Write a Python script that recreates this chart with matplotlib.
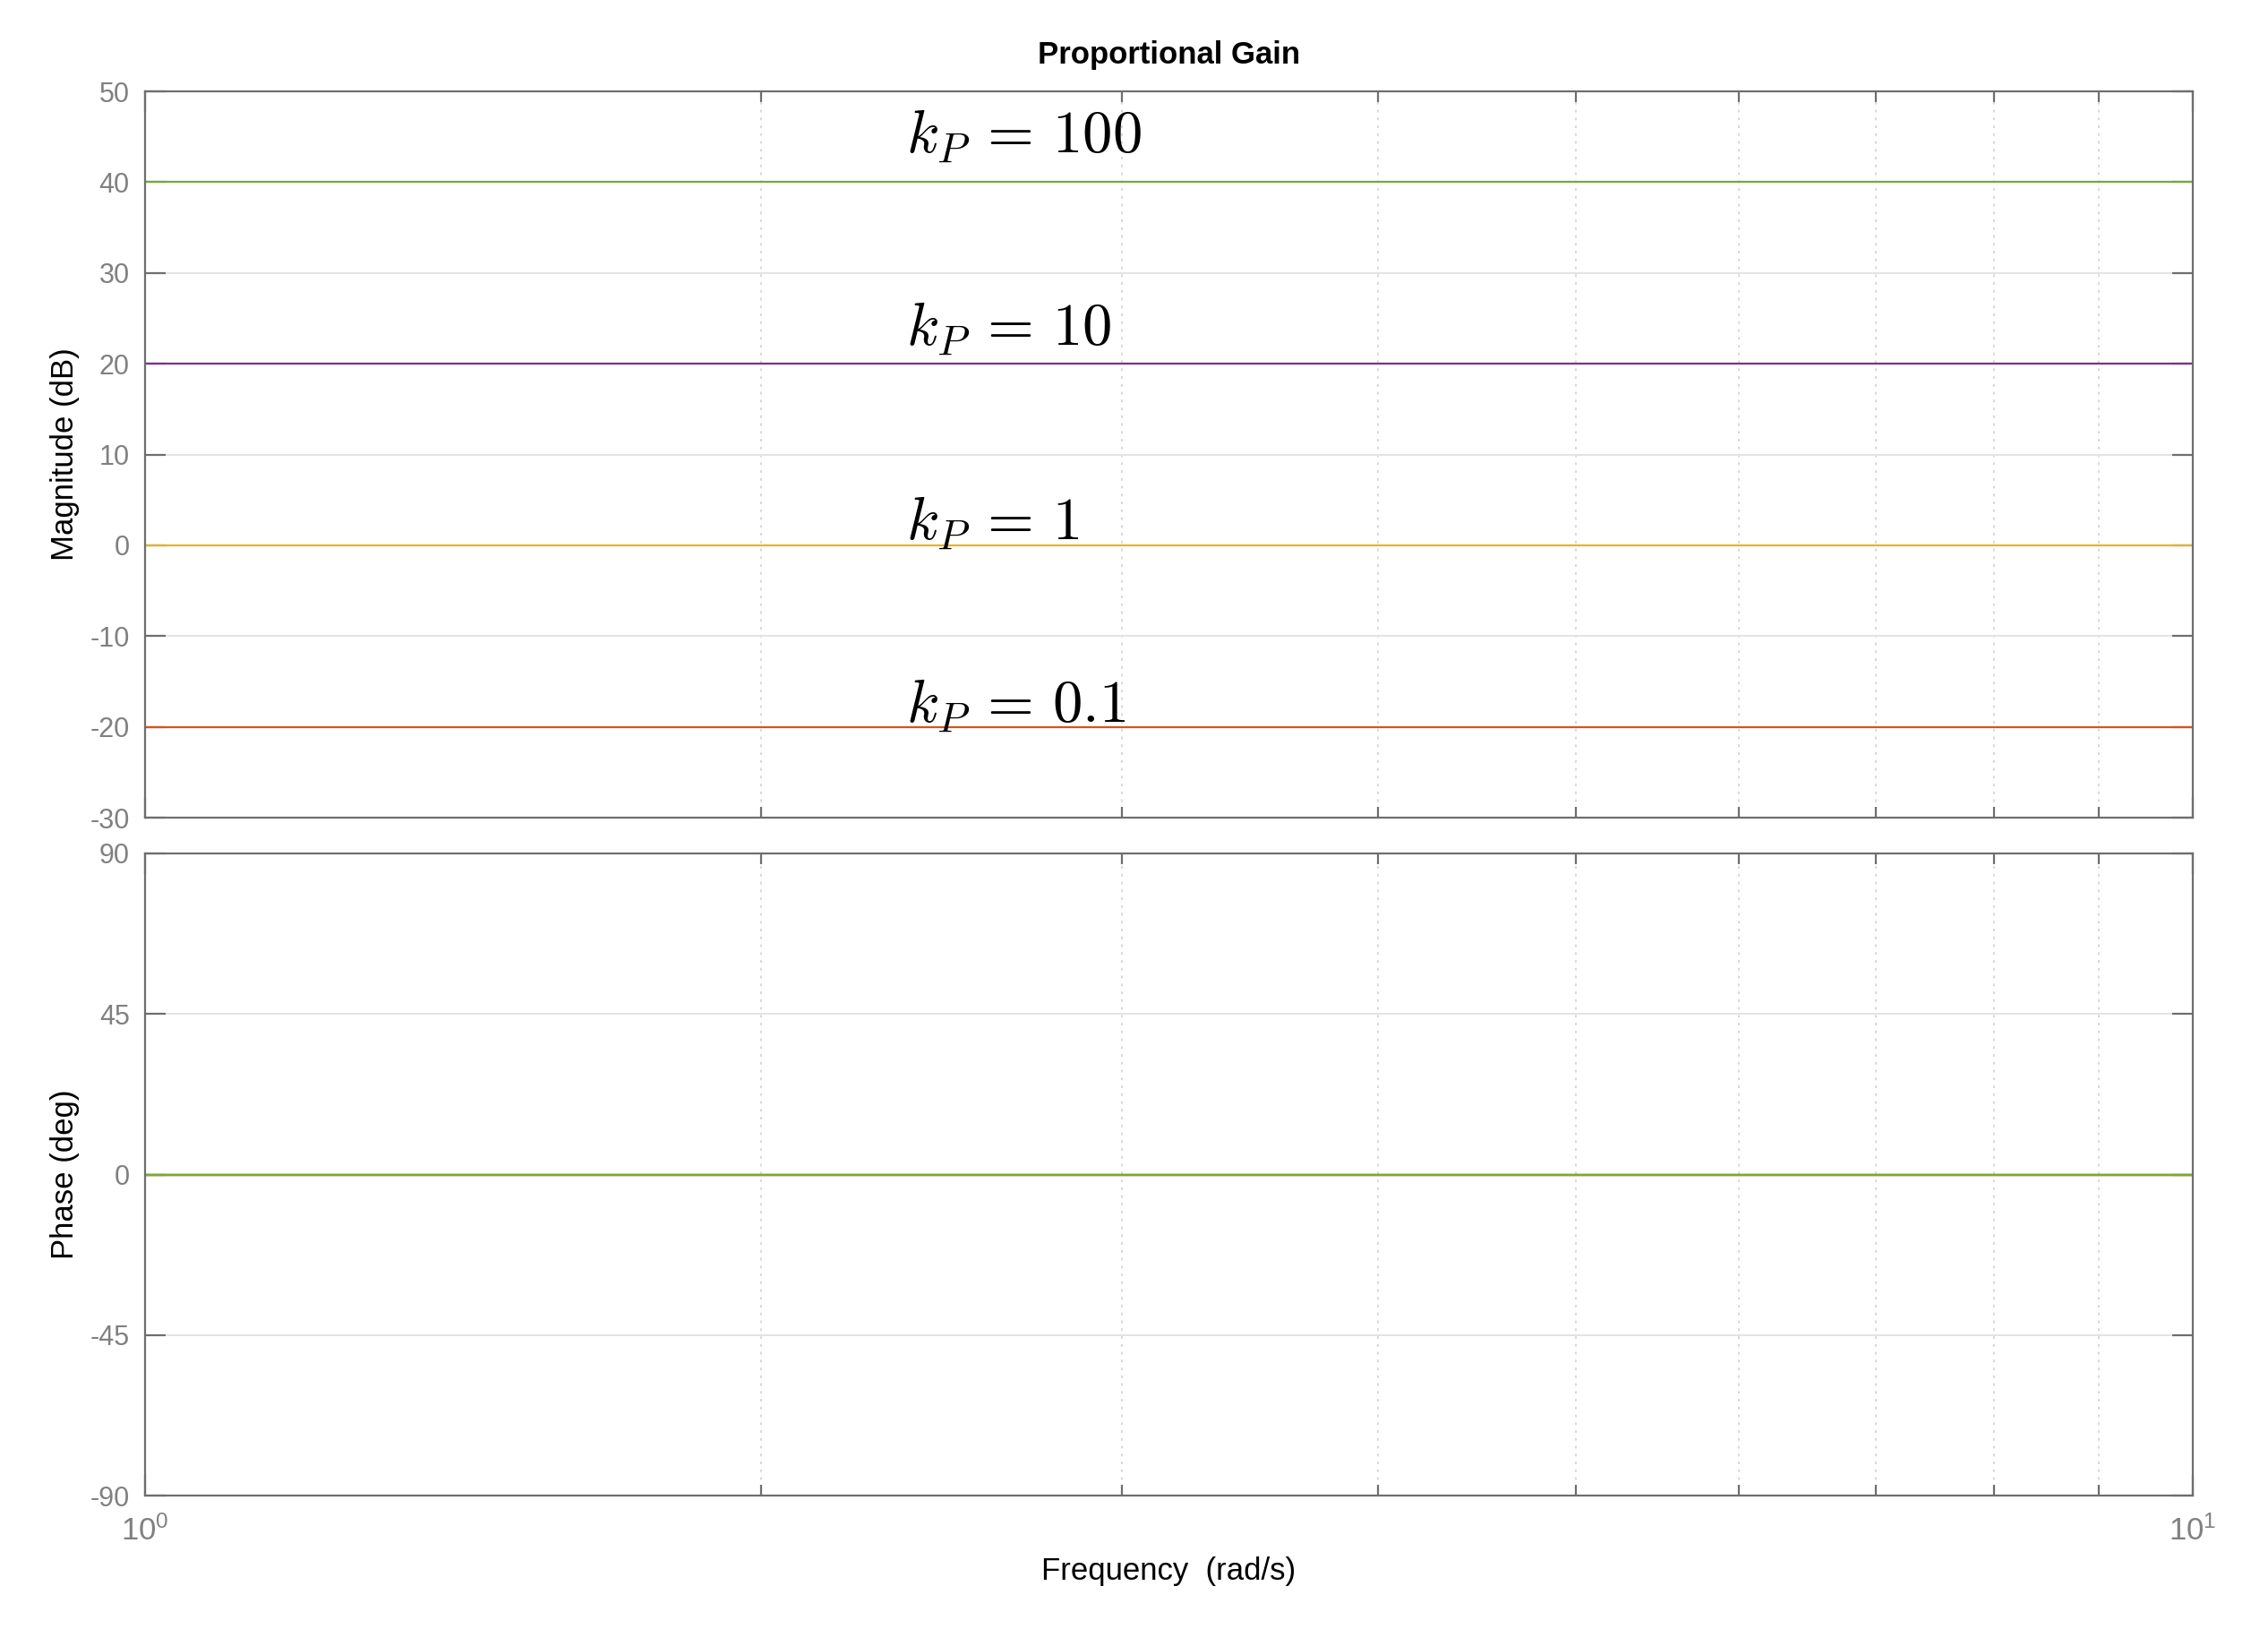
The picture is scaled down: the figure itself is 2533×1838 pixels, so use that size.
import numpy as np
import matplotlib
matplotlib.use('Agg')
import matplotlib.pyplot as plt
from matplotlib.ticker import LogLocator, NullFormatter, FixedLocator

plt.rcParams['font.family'] = ['Liberation Sans', 'DejaVu Sans']
plt.rcParams['mathtext.fontset'] = 'cm'
plt.rcParams['axes.unicode_minus'] = False

# data
freq = [1.0, 10.0]
gains = [0.1, 1, 10, 100]
gain_labels = ['0.1', '1', '10', '100']
mag_db = [-20, 0, 20, 40]
phase_deg = [0, 0, 0, 0]
label_y = [-19.5, 0.6, 22.0, 43.2]
label_x = 2.355
colors = ['#D95319', '#EDB120', '#7E2F8E', '#77AC30']

mag_ticks = [-30, -20, -10, 0, 10, 20, 30, 40, 50]
phase_ticks = [-90, -45, 0, 45, 90]

W, H = 2533, 1838
fig = plt.figure(figsize=(W / 200, H / 200), dpi=200)

x0 = 161.5 / W
x1 = 2449 / W
ax1 = fig.add_axes([x0, 1 - 913 / H, x1 - x0, (913 - 102) / H])
ax2 = fig.add_axes([x0, 1 - 1670 / H, x1 - x0, (1670 - 953) / H])

spine_c = '#6e6e6e'
tick_c = '#808080'


def style(ax, yticks, ylim):
    ax.set_xscale('log')
    ax.set_xlim(1, 10)
    ax.set_ylim(*ylim)
    ax.yaxis.set_major_locator(FixedLocator(yticks))
    ax.xaxis.set_major_locator(LogLocator(base=10, numticks=5))
    ax.xaxis.set_minor_locator(LogLocator(base=10, subs=np.arange(2, 10), numticks=20))
    ax.xaxis.set_minor_formatter(NullFormatter())
    for s in ax.spines.values():
        s.set_color(spine_c)
        s.set_linewidth(0.8)
    ax.tick_params(which='major', direction='in', length=8.3, width=0.8,
                   color=spine_c, labelcolor=tick_c, labelsize=11,
                   top=True, right=True, pad=6)
    ax.tick_params(which='minor', direction='in', length=4.3, width=0.8,
                   color=spine_c, top=True, right=True)
    ax.grid(True, which='major', axis='y', color='#e3e3e3', linewidth=0.7)
    ax.grid(True, which='minor', axis='x', color='#d8d8d8', linewidth=0.7,
            linestyle=(0, (1.5, 3)))
    ax.set_axisbelow(True)


style(ax1, mag_ticks, (-30, 50))
style(ax2, phase_ticks, (-90, 90))
ax1.tick_params(axis='x', which='both', labelbottom=False)
ax2.tick_params(axis='x', which='major', labelsize=12.5, pad=8)

for g, m, c in zip(gains, mag_db, colors):
    ax1.plot(freq, [m, m], color=c, linewidth=0.8)
for p, c in zip(phase_deg, colors):
    ax2.plot(freq, [p, p], color=c, linewidth=0.8)

for lab, y in zip(gain_labels, label_y):
    ax1.text(label_x, y, r'$k_P\,=\,%s$' % lab, fontsize=24, ha='left',
             va='baseline', color='black')

ax1.set_title('Proportional Gain', fontsize=12.5, fontweight='bold', pad=11)
ax1.set_ylabel('Magnitude (dB)', fontsize=12.5, labelpad=4)
ax2.set_ylabel('Phase (deg)', fontsize=12.5, labelpad=4)
ax2.set_xlabel('Frequency  (rad/s)', fontsize=12.5, labelpad=4)

fig.savefig('out.png', dpi=200, facecolor='white')
